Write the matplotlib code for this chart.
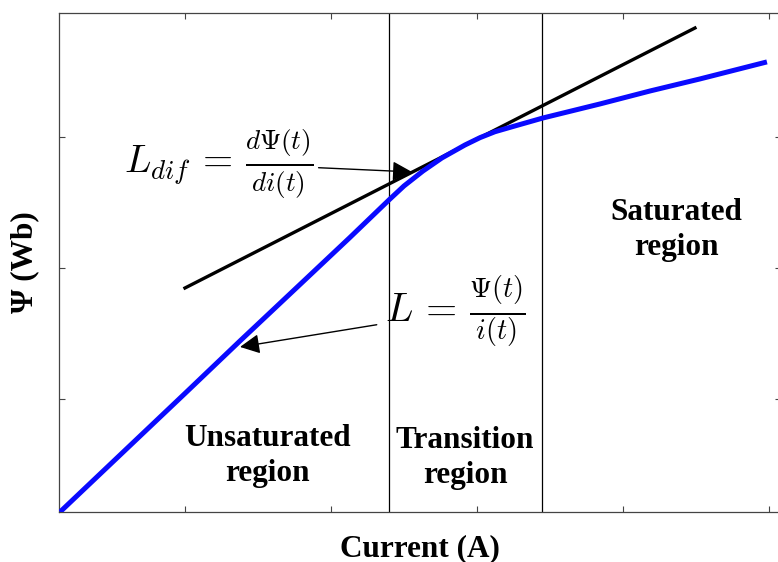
import matplotlib.pyplot as plt

plt.rcParams['mathtext.fontset'] = 'cm'

# curve data (arbitrary units)
current = [0.144, 1.0, 1.377, 1.788, 2.130, 2.397, 2.500, 2.630, 2.760, 2.918, 3.021, 3.123,
           3.247, 3.452, 3.842, 4.185, 4.527, 4.986]
flux = [0.137, 1.042, 1.443, 1.874, 2.233, 2.519, 2.626, 2.740, 2.840, 2.939, 2.995, 3.040,
        3.080, 3.145, 3.252, 3.351, 3.443, 3.573]

tangent_x = [1.0, 4.493]
tangent_y = [1.847, 3.832]

region_bounds = [2.397, 3.445]
x_ticks = [1, 2, 3, 4, 5]
y_ticks = [1, 2, 3]

fig = plt.figure(figsize=(7.78, 5.62), dpi=100)
ax = fig.add_axes([0.0758, 0.089, 0.928, 0.888])

ax.plot(current, flux, color='#0a0aff', lw=3.6, solid_capstyle='butt',
        solid_joinstyle='round', zorder=3)
ax.plot(tangent_x, tangent_y, color='black', lw=2.4, zorder=2)
for xb in region_bounds:
    ax.axvline(xb, color='black', lw=0.9)

ax.set_xlim(0.137, 5.082)
ax.set_ylim(0.137, 3.947)
ax.set_xticks(x_ticks)
ax.set_yticks(y_ticks)
ax.tick_params(direction='in', length=4, width=0.8, top=True, right=True,
               labelbottom=False, labelleft=False, colors='#444444')
for s in ax.spines.values():
    s.set_linewidth(0.9)
    s.set_color('#444444')

bold = dict(family='Liberation Serif', fontweight='bold', fontsize=22.5)
ax.set_xlabel('Current (A)', labelpad=16, **bold)
ax.set_ylabel('Ψ (Wb)', labelpad=14, **bold)

ax.text(1.568, 0.565, 'Unsaturated\nregion', ha='center', va='center', linespacing=1.3, **bold)
ax.text(2.918, 0.55, 'Transition\nregion', ha='center', va='center', linespacing=1.3, **bold)
ax.text(4.363, 2.29, 'Saturated\nregion', ha='center', va='center', linespacing=1.3, **bold)

ax.annotate(r'$L_{dif}\,=\,\frac{d\Psi(t)}{di(t)}$', xy=(2.555, 2.733), xytext=(1.877, 2.80),
            ha='right', va='center', fontsize=28,
            arrowprops=dict(arrowstyle='-|>', color='black', lw=1, mutation_scale=30,
                            shrinkA=2, shrinkB=0))
ax.annotate(r'$L\,=\,\frac{\Psi(t)}{i(t)}$', xy=(1.377, 1.397), xytext=(2.37, 1.664),
            ha='left', va='center', fontsize=29,
            arrowprops=dict(arrowstyle='-|>', color='black', lw=1, mutation_scale=30,
                            shrinkA=4, shrinkB=0))

plt.savefig('out.png', dpi=100)
